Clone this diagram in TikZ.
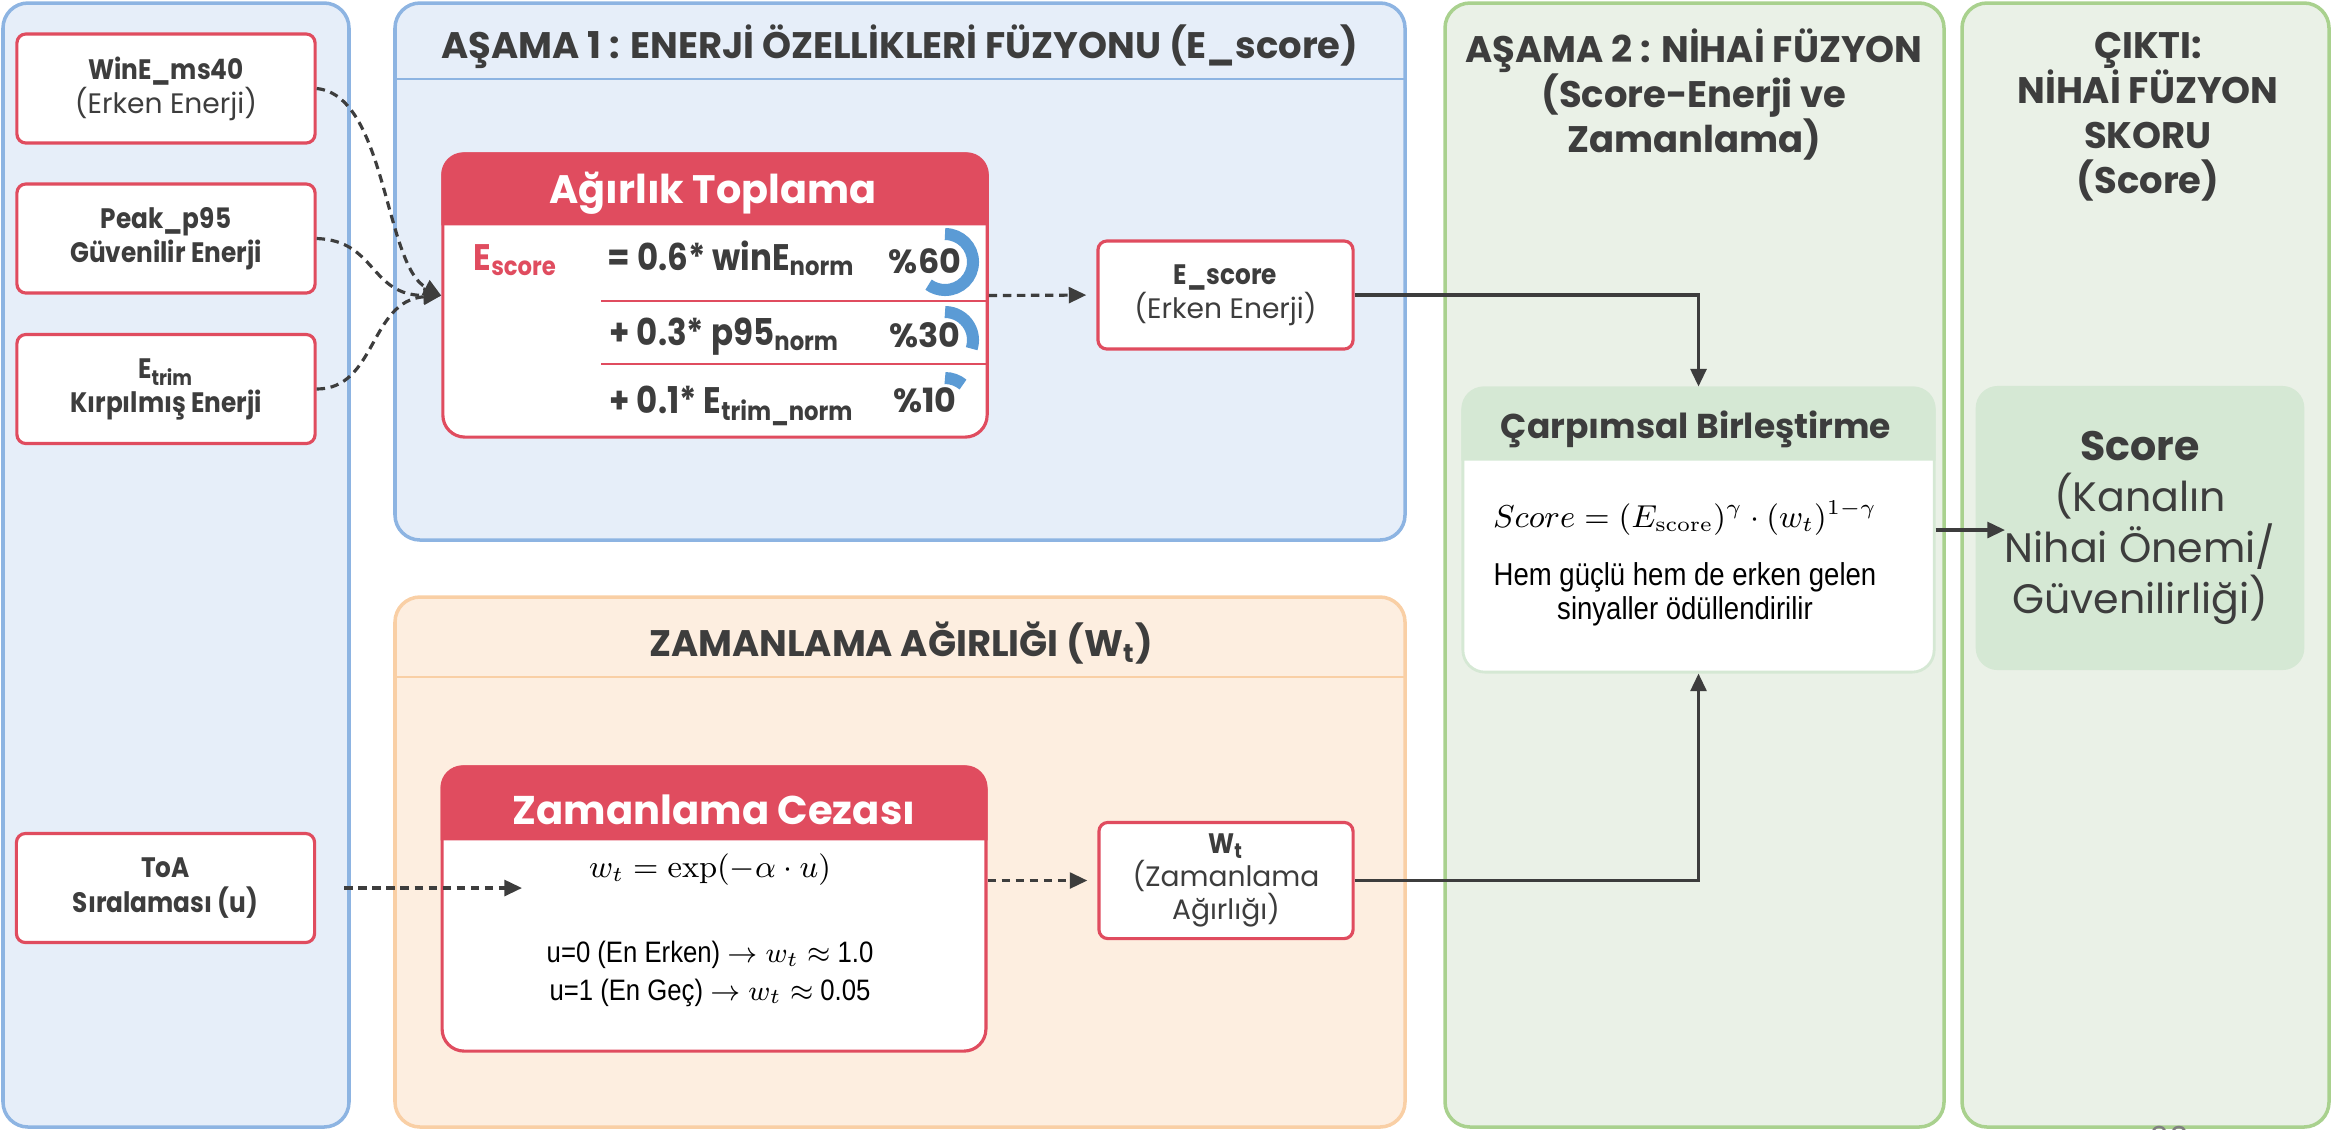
\documentclass[tikz,border=0pt]{standalone}
\usepackage[no-math]{fontspec}
\setmainfont{Poppins}
\newfontfamily\darfont[FakeStretch=0.87]{Liberation Sans}
\newfontfamily\sikfont[FakeStretch=0.88]{Poppins}
\usetikzlibrary{arrows.meta,positioning}

\definecolor{kirmizi}{HTML}{E04C5F}
\definecolor{koyu}{HTML}{3D3D3D}
\definecolor{mavizemin}{HTML}{E6EEF9}
\definecolor{mavicizgi}{HTML}{8DB4E2}
\definecolor{turuncuzemin}{HTML}{FDEEE0}
\definecolor{turuncucizgi}{HTML}{F9CFA5}
\definecolor{yesilzemin}{HTML}{EAF1E7}
\definecolor{yesilcizgi}{HTML}{A9D18E}
\definecolor{yesilkutu}{HTML}{D5E8D4}
\definecolor{halka}{HTML}{5B9BD5}

\tikzset{
  panel/.style={line width=1pt, rounded corners=0.25cm},
  girdi/.style={draw=kirmizi, line width=0.9pt, fill=white, rounded corners=0.09cm,
    minimum width=2.98cm, minimum height=1.09cm, align=center, text=koyu,
    font=\fontsize{8}{9.7}\selectfont},
  kart/.style={draw=kirmizi, line width=0.9pt, fill=white, rounded corners=0.22cm},
  kesikok/.style={draw=koyu, line width=0.9pt, dash pattern=on 2.4pt off 1.6pt,
    -{Triangle[length=5pt,width=4.5pt]}},
  ok/.style={draw=koyu, line width=0.9pt, -{Triangle[length=5pt,width=4.5pt]}},
  baslik/.style={text=koyu, font=\bfseries\fontsize{10.5}{12.8}\selectfont, align=center},
  satir/.style={anchor=base west, inner sep=0pt, text=koyu, font=\sikfont\bfseries\fontsize{10.5}{12}\selectfont},
  yuzde/.style={anchor=base, text=koyu, font=\bfseries\fontsize{9.5}{11}\selectfont},
  halkayay/.style={draw=halka, line width=0.12cm}
}
\newcommand{\kalin}[1]{{\sikfont\bfseries #1}}

\begin{document}
\begin{tikzpicture}[x=0.01cm, y=-0.01cm]
\useasboundingbox (0,0) rectangle (2331,1129);

% Paneller
\draw[panel, fill=mavizemin, draw=mavicizgi] (3,3) rectangle (349,1127);
\draw[panel, fill=mavizemin, draw=mavicizgi] (395,3) rectangle (1405,540);
\draw[mavicizgi, line width=0.6pt] (395,79) -- (1405,79);
\draw[panel, fill=turuncuzemin, draw=turuncucizgi] (395,597) rectangle (1405,1127);
\draw[turuncucizgi, line width=0.6pt] (395,677) -- (1405,677);
\draw[panel, fill=yesilzemin, draw=yesilcizgi] (1445,3) rectangle (1944,1127);
\draw[panel, fill=yesilzemin, draw=yesilcizgi] (1962,3) rectangle (2329,1127);

% Panel basliklari
\node[baslik] (asama1) at (900,47) {AŞAMA 1 : ENERJİ ÖZELLİKLERİ FÜZYONU (E\_score)};
\node[baslik] (zamanbaslik) at (901,643) {ZAMANLAMA AĞIRLIĞI (W\textsubscript{t})};
\node[baslik] (asama2) at (1694,94) {AŞAMA 2 : NİHAİ FÜZYON\\(Score-Enerji ve\\Zamanlama)};
\node[baslik] (cikti) at (2148,117) {ÇIKTI:\\NİHAİ FÜZYON\\SKORU\\(Score)};

% Girdiler
\node[girdi] (wine) at (166,88.5) {\kalin{WinE\_ms40}\\(Erken Enerji)};
\node[girdi] (peak) at (166,238.5) {\kalin{Peak\_p95}\\\kalin{Güvenilir Enerji}};
\node[girdi] (etrim) at (166,389) {\kalin{E\textsubscript{trim}}\\\kalin{Kırpılmış Enerji}};
\node[girdi] (toa) at (165.5,888) {\kalin{ToA}\\\kalin{Sıralaması (u)}};

% Agirlik Toplama
\node[kart, minimum width=5.44cm, minimum height=2.83cm] (agirlik) at (715,295.5) {};
\fill[kirmizi] ([yshift=-0.73cm]agirlik.north west) [rounded corners=0.22cm]
  -- (agirlik.north west) -- (agirlik.north east) [sharp corners]
  -- ([yshift=-0.73cm]agirlik.north east) -- cycle;
\node[text=white, font=\bfseries\fontsize{11.3}{13}\selectfont] (agirlikbaslik) at (713,193) {Ağırlık Toplama};
\draw[kirmizi, line width=0.6pt] (601,301) -- (987,301);
\draw[kirmizi, line width=0.6pt] (601,364) -- (987,364);
\node[satir, text=kirmizi] (escoreetiket) at (473,270) {E\textsubscript{score}};
\node[satir] (satir1) at (607,270) {= 0.6* winE\textsubscript{norm}};
\node[satir] (satir2) at (609,345) {+ 0.3* p95\textsubscript{norm}};
\node[satir] (satir3) at (609,413) {+ 0.1* E\textsubscript{trim\_norm}};
\draw[halkayay] (945,262) ++(-90:28) arc[start angle=-90, end angle=126, radius=28];
\draw[halkayay] (945,340) ++(-90:28) arc[start angle=-90, end angle=18, radius=28];
\draw[halkayay] (945,406) ++(-90:28) arc[start angle=-90, end angle=-50, radius=28];
\node[yuzde] (yuzde60) at (925,273) {\%60};
\node[yuzde] (yuzde30) at (925,347) {\%30};
\node[yuzde] (yuzde10) at (925,412) {\%10};

% E_score kutusu
\node[girdi, minimum width=2.55cm, minimum height=1.08cm] (escore) at (1225.5,295) {\kalin{E\_score}\\(Erken Enerji)};

% Zamanlama Cezasi
\node[kart, minimum width=5.435cm, minimum height=2.84cm] (zaman) at (714,909) {};
\fill[kirmizi] ([yshift=-0.75cm]zaman.north west) [rounded corners=0.22cm]
  -- (zaman.north west) -- (zaman.north east) [sharp corners]
  -- ([yshift=-0.75cm]zaman.north east) -- cycle;
\node[text=white, font=\bfseries\fontsize{11.4}{13}\selectfont] (zamanbaslik2) at (714,810) {Zamanlama Cezası};
\node[font=\fontsize{9}{11}\selectfont] (zamanformul) at (710,870) {$w_t = \exp(-\alpha \cdot u)$};
\node[font=\darfont\fontsize{8.4}{10.6}\selectfont, align=center] (zamanaciklama) at (710,974)
  {u=0 (En Erken) $\rightarrow w_t \approx$ 1.0\\u=1 (En Geç) $\rightarrow w_t \approx$ 0.05};

% W_t kutusu
\node[girdi, minimum width=2.54cm, minimum height=1.09cm, font=\fontsize{8}{9.3}\selectfont] (wt) at (1226,880.5) {\kalin{W\textsubscript{t}}\\(Zamanlama\\Ağırlığı)};

% Carpimsal Birlestirme
\node[draw=yesilkutu, line width=0.8pt, fill=white, rounded corners=0.22cm,
  minimum width=4.71cm, minimum height=2.84cm] (carp) at (1698.5,530) {};
\fill[yesilkutu] ([yshift=-0.74cm]carp.north west) [rounded corners=0.22cm]
  -- (carp.north west) -- (carp.north east) [sharp corners]
  -- ([yshift=-0.74cm]carp.north east) -- cycle;
\node[text=koyu, font=\bfseries\fontsize{9.8}{12}\selectfont] (carpbaslik) at (1696,429) {Çarpımsal Birleştirme};
\node[font=\fontsize{8.6}{10}\selectfont] (carpformul) at (1685,518)
  {$Score = (E_{\mathrm{score}})^{\gamma} \cdot (w_t)^{1-\gamma}$};
\node[font=\darfont\fontsize{9}{9.7}\selectfont, align=center] (carpaciklama) at (1685,594)
  {Hem güçlü hem de erken gelen\\sinyaller ödüllendirilir};

% Cikti
\node[fill=yesilkutu, rounded corners=0.22cm, minimum width=3.285cm, minimum height=2.84cm,
  align=center, text=koyu, font=\fontsize{11.7}{14.5}\selectfont] (score) at (2140,528)
  {\textbf{Score}\\(Kanalın\\Nihai Önemi/\\Güvenilirliği)};

% Baglantilar
\draw[kesikok] (wine.east) .. controls +(70,7) and +(-57,-30) .. (agirlik.west);
\draw[kesikok] (peak.east) .. controls +(60,2) and +(-72,0) .. (agirlik.west);
\draw[kesikok] (etrim.east) .. controls +(60,0) and +(-72,5) .. (agirlik.west);
\draw[kesikok, shorten >=0.1cm] (agirlik.east) -- (escore.west);
\draw[ok] (escore.east) -| (carp.north);
\coordinate (toaucu) at (522,888);
\draw[kesikok, shorten <=0.28cm] (toa.east) -- (toaucu);
\draw[kesikok, shorten >=0.1cm] (zaman.east |- wt.west) -- (wt.west);
\draw[ok] (wt.east) -| (carp.south);
\coordinate (skoruc) at ([xshift=0.3cm]score.west);
\draw[ok] (carp.east) -- (carp.east -| skoruc);

% Sayfa numarasi
\node[text=gray, font=\fontsize{9}{10}\selectfont] (sayfa) at (2170,1138) {20};

\end{tikzpicture}
\end{document}
